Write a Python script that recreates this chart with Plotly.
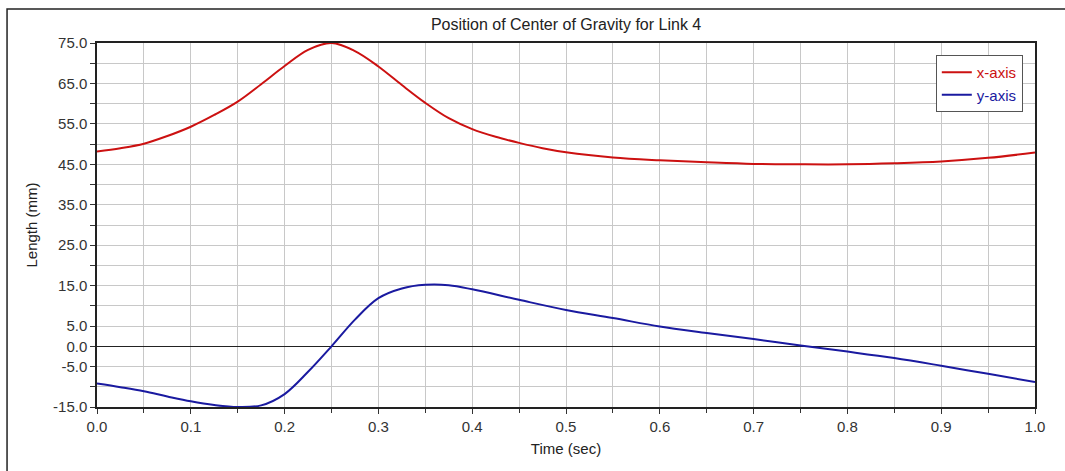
import plotly.graph_objects as go

time_x = [0.0, 0.025, 0.05, 0.075, 0.1, 0.125, 0.15, 0.175, 0.2, 0.225, 0.25, 0.275, 0.3,
          0.325, 0.35, 0.375, 0.4, 0.425, 0.45, 0.475, 0.5, 0.55, 0.6, 0.65, 0.7, 0.75,
          0.8, 0.85, 0.9, 0.95, 1.0]
x_axis_vals = [48.2, 49.0, 50.1, 52.0, 54.3, 57.2, 60.5, 64.8, 69.3, 73.3, 75.0, 73.0, 69.2,
               64.6, 60.2, 56.4, 53.7, 51.8, 50.3, 49.0, 48.0, 46.7, 46.0, 45.5, 45.1, 45.0,
               45.0, 45.25, 45.7, 46.6, 47.9]

time_y = [0.0, 0.025, 0.05, 0.075, 0.1, 0.125, 0.15, 0.175, 0.2, 0.225, 0.25, 0.275, 0.3,
          0.325, 0.35, 0.375, 0.4, 0.45, 0.5, 0.55, 0.6, 0.65, 0.7, 0.75, 0.8, 0.85,
          0.9, 0.95, 1.0]
y_axis_vals = [-9.2, -10.1, -11.1, -12.4, -13.6, -14.5, -15.0, -14.6, -11.8, -6.3, 0.0, 6.6,
               11.9, 14.3, 15.2, 15.1, 14.1, 11.5, 9.0, 7.0, 4.9, 3.3, 1.8, 0.2, -1.3, -2.9,
               -4.8, -6.8, -8.8]

y_tickvals = [-15, -5, 0, 5, 15, 25, 35, 45, 55, 65, 75]
y_ticktext = ["-15.0", "-5.0", "0.0", "5.0", "15.0", "25.0", "35.0", "45.0", "55.0", "65.0", "75.0"]

RED = "#cc1111"
BLUE = "#1a1aa0"
FONT = "Liberation Sans, Arial, sans-serif"

fig = go.Figure()
fig.add_trace(go.Scatter(x=time_x, y=x_axis_vals, mode="lines",
                         line=dict(color=RED, width=2, shape="spline", smoothing=1.0),
                         name=f"<span style='color:{RED}'>x-axis</span>"))
fig.add_trace(go.Scatter(x=time_y, y=y_axis_vals, mode="lines",
                         line=dict(color=BLUE, width=2, shape="spline", smoothing=1.0),
                         name=f"<span style='color:{BLUE}'>y-axis</span>"))

fig.update_layout(
    width=1065, height=471,
    margin=dict(l=97, r=30, t=43, b=64),
    paper_bgcolor="white", plot_bgcolor="white",
    font=dict(family=FONT, size=15, color="#222222"),
    title=dict(text="Position of Center of Gravity for Link 4", x=0.5315, xanchor="center",
               y=0.949, yanchor="middle", font=dict(size=16, color="#222222")),
    showlegend=True,
    legend=dict(x=0.987, xanchor="right", y=0.967, yanchor="top",
                bgcolor="white", bordercolor="#555555", borderwidth=1,
                font=dict(size=15), tracegroupgap=0, itemwidth=30),
    shapes=[dict(type="rect", xref="paper", yref="paper",
                 x0=-0.0959, x1=1.2, y0=-0.4, y1=1.0934,
                 line=dict(color="#222222", width=1.5), layer="below")],
)

fig.update_xaxes(
    range=[0, 1.0], dtick=0.1, tick0=0, tickformat=".1f",
    showgrid=True, gridcolor="#c8c8c8", gridwidth=1,
    ticks="outside", ticklen=5, tickcolor="#333333",
    showline=True, linecolor="#222222", linewidth=1.5, mirror=True,
    minor=dict(dtick=0.05, tick0=0, showgrid=True, gridcolor="#c8c8c8",
               ticks="outside", ticklen=4, tickcolor="#333333"),
    title=dict(text="Time (sec)", font=dict(size=15), standoff=10),
    tickfont=dict(size=15, color="#333333"),
    zeroline=False,
)
fig.update_yaxes(
    range=[-15, 75], tickmode="array", tickvals=y_tickvals, ticktext=y_ticktext,
    showgrid=True, gridcolor="#c8c8c8", gridwidth=1,
    ticks="outside", ticklen=5, tickcolor="#333333",
    showline=True, linecolor="#222222", linewidth=1.5, mirror=True,
    minor=dict(dtick=5, tick0=0, showgrid=True, gridcolor="#c8c8c8",
               ticks="outside", ticklen=5, tickcolor="#333333"),
    title=dict(text="Length (mm)", font=dict(size=15), standoff=12),
    tickfont=dict(size=15, color="#333333"),
    zeroline=True, zerolinecolor="#222222", zerolinewidth=1,
)

fig.write_html("out.html", config={"displayModeBar": False},
               post_script="document.body.style.margin='0';document.body.style.overflow='hidden';")
